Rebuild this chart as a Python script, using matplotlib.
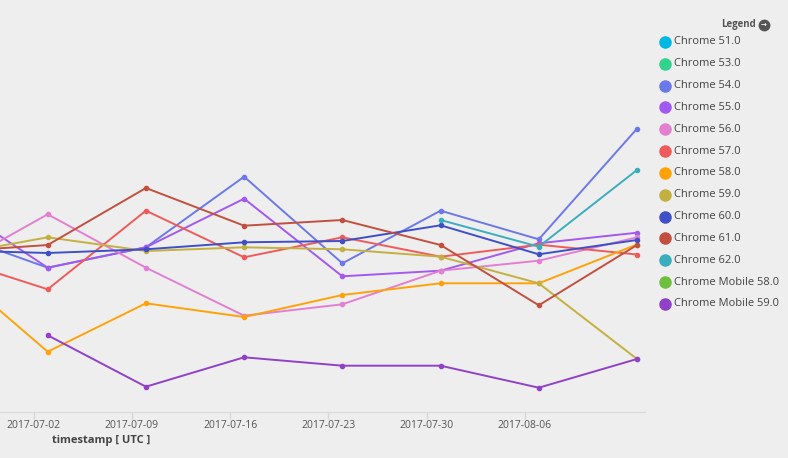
import matplotlib
matplotlib.use("Agg")
import matplotlib.pyplot as plt
from matplotlib.lines import Line2D
import numpy as np
import pandas as pd

plt.rcParams["font.family"] = ["Open Sans", "DejaVu Sans"]

# weekly buckets (first one sits just left of the visible range)
weeks = pd.date_range("2017-06-26", periods=8, freq="7D")
nan = np.nan

series_names = [
    "Chrome 51.0", "Chrome 53.0", "Chrome 54.0", "Chrome 55.0", "Chrome 56.0",
    "Chrome 57.0", "Chrome 58.0", "Chrome 59.0", "Chrome 60.0", "Chrome 61.0",
    "Chrome 62.0", "Chrome Mobile 58.0", "Chrome Mobile 59.0",
]
colors = [
    "#00b7e3", "#2fd48d", "#6b78ea", "#a259f0", "#e27fd0",
    "#ef5b5b", "#ffa20a", "#c4b040", "#3f4fc6", "#c2503f",
    "#3aaebe", "#6cc03c", "#9140c8",
]

chrome_51 = [nan] * 8
chrome_53 = [nan] * 8
chrome_54 = [179.3, 144.3, 164.7, 235.3, 148.7, 201.3, 172.7, 283.3]
chrome_55 = [209.6, 144.3, 164.7, 213.3, 135.7, 141.3, 168.7, 179.3]
chrome_56 = [142.7, 197.7, 144.3, 96.3, 107.7, 141.3, 151.3, 174.7]
chrome_57 = [154.2, 122.7, 201.3, 154.7, 174.7, 155.3, 167.3, 157.5]
chrome_58 = [144.8, 60.3, 108.7, 95.0, 117.0, 128.7, 128.7, 167.5]
chrome_59 = [156.8, 174.7, 161.0, 164.7, 162.7, 155.3, 128.7, 53.0]
chrome_60 = [161.7, 159.0, 162.7, 169.7, 171.0, 186.7, 157.7, 172.0]
chrome_61 = [160.2, 167.0, 224.0, 186.3, 192.0, 167.0, 106.7, 167.0]
chrome_62 = [nan, nan, nan, nan, nan, 192.0, 165.3, 242.0]
mobile_58 = [nan] * 8
mobile_59 = [nan, 76.7, 25.3, 54.7, 46.3, 46.3, 24.3, 53.0]

all_values = [chrome_51, chrome_53, chrome_54, chrome_55, chrome_56, chrome_57,
              chrome_58, chrome_59, chrome_60, chrome_61, chrome_62, mobile_58, mobile_59]

tick_dates = pd.date_range("2017-07-02", periods=6, freq="7D")
tick_labels = [d.strftime("%Y-%m-%d") for d in tick_dates]

BG = "#eeeeee"
W, H = 788, 458
fig = plt.figure(figsize=(W / 100, H / 100), dpi=100, facecolor=BG)
ax = fig.add_axes([0, (H - 412) / H, 645 / W, 412 / H])
ax.set_facecolor(BG)

for name, col, vals in zip(series_names, colors, all_values):
    ax.plot(weeks, vals, color=col, lw=1.4, marker="o", ms=3, mec=col, label=name,
            solid_joinstyle="round")

# x range: 07-03 lands at ~48px, 08-14 at ~637px
px_per_day = (637 - 47.7) / 42
left = pd.Timestamp("2017-07-03") - pd.Timedelta(days=47.7 / px_per_day)
right = pd.Timestamp("2017-08-14") + pd.Timedelta(days=8 / px_per_day)
ax.set_xlim(left, right)
ax.set_ylim(0, 412)

ax.set_xticks(tick_dates)
ax.set_xticklabels(tick_labels)
ax.tick_params(axis="x", colors="#d6d6d6", labelcolor="#555555", labelsize=7.5,
               length=5, width=1, pad=1)
ax.set_yticks([])
for s in ["top", "right", "left"]:
    ax.spines[s].set_visible(False)
ax.spines["bottom"].set_color("#dadada")

fig.text(101 / W, 1 - 441 / H, "timestamp [ UTC ]", ha="center", va="center",
         fontsize=8, fontweight="bold", color="#444444")

# legend, drawn by hand to match the dashboard layout
for i, (name, col) in enumerate(zip(series_names, colors)):
    y = 1 - (42 + i * 21.83) / H
    fig.add_artist(Line2D([665 / W], [y], ls="", marker="o", ms=8, color=col,
                          transform=fig.transFigure))
    fig.text(674 / W, y, name, ha="left", va="center", fontsize=8, color="#444444")

fig.text(739 / W, 1 - 25 / H, "Legend", ha="center", va="center", fontsize=7,
         fontweight="bold", color="#555555")
fig.add_artist(Line2D([764 / W], [1 - 25 / H], ls="", marker="o", ms=7.5,
                      color="#555555", transform=fig.transFigure))
fig.text(764 / W, 1 - 25 / H, "\u2192", ha="center", va="center", fontsize=5,
         fontweight="bold", color="white", family="DejaVu Sans")

fig.savefig("out.png", dpi=100, facecolor=BG)
